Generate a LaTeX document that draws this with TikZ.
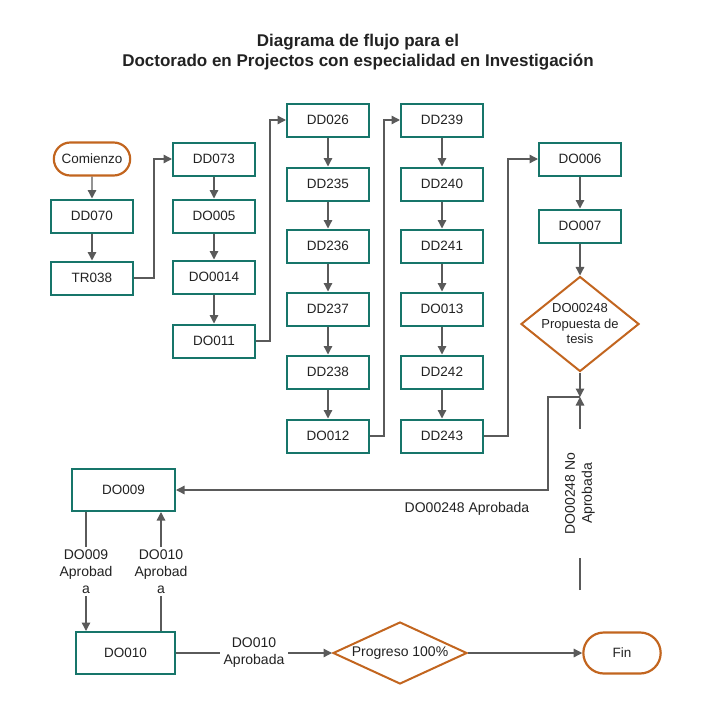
\documentclass[tikz,border=0pt]{standalone}
\usepackage{fontspec}
\setmainfont{Liberation Sans}
\usetikzlibrary{shapes.geometric,shapes.misc,arrows.meta}
\definecolor{boxline}{HTML}{17756A}
\definecolor{termline}{HTML}{C2651F}
\definecolor{flowline}{HTML}{5A5A5A}
\definecolor{inktext}{HTML}{222222}
\tikzset{
  course/.style={draw=boxline, line width=2pt, minimum width=82pt, minimum height=33pt, text=inktext, font=\fontsize{13.5}{15}\selectfont},
  terminal/.style={rounded rectangle, draw=termline, line width=2.2pt, text=inktext, font=\fontsize{13.5}{15}\selectfont},
  decision/.style={diamond, draw=termline, line width=2pt, inner sep=0pt, text=inktext, font=\fontsize{14}{15.5}\selectfont},
  flow/.style={draw=flowline, line width=1.3pt, -{Triangle[length=8.5pt,width=8.5pt]}},
  tag/.style={fill=white, align=center, text=inktext, font=\fontsize{14}{17}\selectfont}
}
\begin{document}
\begin{tikzpicture}[x=1pt,y=-1pt]
  \useasboundingbox (0,0) rectangle (716,717);
  \node [align=center, text=inktext, font=\bfseries\fontsize{17}{20}\selectfont] (title) at (358,52)
    {Diagrama de flujo para el\\Doctorado en Projectos con especialidad en Investigación};
  % first column
  \node [terminal, minimum width=83pt, minimum height=33pt] (comienzo) at (92,159) {Comienzo};
  \node [course] (dd070) at (92,216) {DD070};
  \node [course] (tr038) at (92,278) {TR038};
  % second column
  \node [course] (dd073) at (214,159) {DD073};
  \node [course] (do005) at (214,216) {DO005};
  \node [course] (do0014) at (214,277) {DO0014};
  \node [course] (do011) at (214,341) {DO011};
  % third column
  \node [course] (dd026) at (328,120) {DD026};
  \node [course] (dd235) at (328,184) {DD235};
  \node [course] (dd236) at (328,246) {DD236};
  \node [course] (dd237) at (328,309) {DD237};
  \node [course] (dd238) at (328,372) {DD238};
  \node [course] (do012) at (328,436) {DO012};
  % fourth column
  \node [course] (dd239) at (442,120) {DD239};
  \node [course] (dd240) at (442,184) {DD240};
  \node [course] (dd241) at (442,246) {DD241};
  \node [course] (do013) at (442,309) {DO013};
  \node [course] (dd242) at (442,372) {DD242};
  \node [course] (dd243) at (442,436) {DD243};
  % proposal
  \node [course] (do006) at (580,159) {DO006};
  \node [course] (do007) at (580,226) {DO007};
  \node [decision, minimum width=118pt, minimum height=95pt,
    label={[align=center, text=inktext, font=\fontsize{13}{15.5}\selectfont]center:DO00248\\Propuesta de\\tesis}] (propuesta) at (580,324) {};
  \coordinate (split) at (580,397);
  \coordinate (loose) at (580,590);
  % bottom part
  \node [course, minimum width=103pt, minimum height=42pt] (do009) at (123.5,490) {DO009};
  \node [course, minimum width=99pt, minimum height=42pt] (do010) at (125.5,653) {DO010};
  \node [decision, minimum width=134pt, minimum height=62pt, aspect=2.16] (progreso) at (400,653) {Progreso 100\%};
  \node [terminal, minimum width=84pt, minimum height=41pt] (fin) at (622,653) {Fin};

  \draw [flow] (comienzo) -- (dd070);
  \draw [flow] (dd070) -- (tr038);
  \draw [flow] (tr038.east) -- ++(20,0) |- (dd073.west);
  \draw [flow] (dd073) -- (do005);
  \draw [flow] (do005) -- (do0014);
  \draw [flow] (do0014) -- (do011);
  \draw [flow] (do011.east) -- ++(14,0) |- (dd026.west);
  \draw [flow] (dd026) -- (dd235);
  \draw [flow] (dd235) -- (dd236);
  \draw [flow] (dd236) -- (dd237);
  \draw [flow] (dd237) -- (dd238);
  \draw [flow] (dd238) -- (do012);
  \draw [flow] (do012.east) -- ++(14,0) |- (dd239.west);
  \draw [flow] (dd239) -- (dd240);
  \draw [flow] (dd240) -- (dd241);
  \draw [flow] (dd241) -- (do013);
  \draw [flow] (do013) -- (dd242);
  \draw [flow] (dd242) -- (dd243);
  \draw [flow] (dd243.east) -- ++(24,0) |- (do006.west);
  \draw [flow] (do006) -- (do007);
  \draw [flow] (do007) -- (propuesta);
  \draw [flow] (propuesta.south) -- (split);
  \draw [flow] (split) -- ++(-32,0) |- (do009.east);
  \node [tag] (aprobada) at (467,509) {DO00248 Aprobada};
  \draw [flow] (loose) -- node [tag, rotate=90, inner xsep=24pt] (noaprobada) {DO00248 No\\Aprobada} (split);
  \draw [flow] ([xshift=15pt]do009.south west) -- node [tag, inner ysep=3pt] (tag009) {DO009\\Aprobad\\a} ([xshift=11pt]do010.north west);
  \draw [flow] ([xshift=-15pt]do010.north east) -- node [tag, inner ysep=3pt] (tag010) {DO010\\Aprobad\\a} ([xshift=-15pt]do009.south east);
  \draw [flow] (do010) -- node [tag] (tagprog) {DO010\\Aprobada} (progreso);
  \draw [flow] (progreso) -- (fin);
\end{tikzpicture}
\end{document}
